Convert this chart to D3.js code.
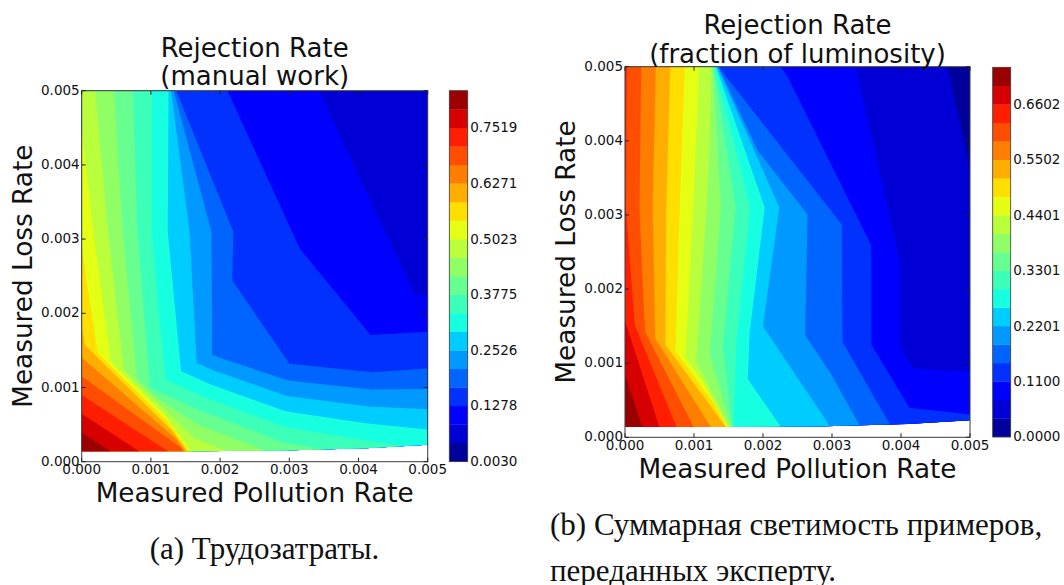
<!DOCTYPE html>
<html><head><meta charset="utf-8">
<script src="https://cdn.jsdelivr.net/npm/d3@7"></script>
<style>body{margin:0;background:#fff} svg{display:block}</style>
</head><body>
<svg id="c" width="1064" height="585"></svg>
<script>
// ---------------- data (measured grid, 4 rows x 6 columns) ----------------
const pollutionRows = [
  [0.00000, 0.00145, 0.00158, 0.00290, 0.00410, 0.00500],
  [0.00000, 0.00100, 0.00200, 0.00300, 0.00420, 0.00500],
  [0.00000, 0.00120, 0.00230, 0.00315, 0.00415, 0.00500],
  [0.00000, 0.00125, 0.00137, 0.00230, 0.00335, 0.00500]
];
const lossRows = [
  [0.00014, 0.00014, 0.00014, 0.00015, 0.00018, 0.00023],
  [0.00160, 0.00100, 0.00150, 0.00130, 0.00120, 0.00125],
  [0.00310, 0.00310, 0.00310, 0.00287, 0.00220, 0.00225],
  [0.00500, 0.00500, 0.00500, 0.00500, 0.00500, 0.00500]
];
const rejectionManual = [
  [0.835, 0.690, 0.500, 0.400, 0.355, 0.325],
  [0.595, 0.375, 0.190, 0.170, 0.170, 0.170],
  [0.535, 0.300, 0.155, 0.128, 0.087, 0.086],
  [0.490, 0.300, 0.165, 0.118, 0.088, 0.048]
];
const rejectionLumi = [
  [0.7335, 0.520, 0.290, 0.225, 0.125, 0.115],
  [0.659, 0.410, 0.220, 0.160, 0.055, 0.050],
  [0.626, 0.400, 0.209, 0.146, 0.060, 0.045],
  [0.628, 0.410, 0.145, 0.108, 0.073, 0.028]
];
const axisTicks = [0.000, 0.001, 0.002, 0.003, 0.004, 0.005];
const zRangeManual = [0.0030, 0.83514];
const zRangeLumi = [0.0000, 0.73356];
const cbarTicksManual = [0.0030, 0.1278, 0.2526, 0.3775, 0.5023, 0.6271, 0.7519];
const cbarTicksLumi = [0.0000, 0.1100, 0.2201, 0.3301, 0.4401, 0.5502, 0.6602];
const nBands = 20;

// ---------------- jet colormap ----------------
const JR = [[0,0],[0.35,0],[0.66,1],[0.89,1],[1,0.5]];
const JG = [[0,0],[0.125,0],[0.375,1],[0.64,1],[0.91,0],[1,0]];
const JB = [[0,0.5],[0.11,1],[0.34,1],[0.65,0],[1,0]];
function seg(pts, x){
  for (let k = 1; k < pts.length; k++) {
    if (x <= pts[k][0]) { const [x0,y0] = pts[k-1], [x1,y1] = pts[k]; return y0 + (y1-y0)*(x-x0)/(x1-x0); }
  }
  return pts[pts.length-1][1];
}
function jet(t){
  const i = Math.max(0, Math.min(255, Math.floor(t*256)));
  const x = i/255;
  return d3.rgb(255*seg(JR,x), 255*seg(JG,x), 255*seg(JB,x)).formatHex();
}
const bandColor = k => jet((k + 0.5)/nBands);

const svg = d3.select('#c');
const FONT = "'DejaVu Sans', sans-serif";

function panel(cfg){
  const {X, Y, Z, zRange, cTicks, box, cbar, id} = cfg;
  const x = d3.scaleLinear().domain([0, 0.005]).range([box.l, box.r]);
  const y = d3.scaleLinear().domain([0, 0.005]).range([box.b, box.t]);
  const levels = d3.range(nBands + 1).map(k => zRange[0] + k*(zRange[1]-zRange[0])/nBands);
  const m = Z.length, n = Z[0].length;
  const values = Z.flat();

  svg.append('clipPath').attr('id', 'clip' + id)
    .append('rect').attr('x', box.l).attr('y', box.t).attr('width', box.r - box.l).attr('height', box.b - box.t);

  function toPx(p){
    const u = Math.max(0, Math.min(n-1, p[0] - 0.5));
    const v = Math.max(0, Math.min(m-1, p[1] - 0.5));
    const i = Math.min(n-2, Math.floor(u)), j = Math.min(m-2, Math.floor(v));
    const fu = u - i, fv = v - j;
    const bil = A => (1-fu)*(1-fv)*A[j][i] + fu*(1-fv)*A[j][i+1] + (1-fu)*fv*A[j+1][i] + fu*fv*A[j+1][i+1];
    return [x(bil(X)), y(bil(Y))];
  }

  const gen = d3.contours().size([n, m]).thresholds(levels.slice(0, nBands));
  const g = svg.append('g').attr('clip-path', `url(#clip${id})`);
  gen(values).forEach((c, k) => {
    let d = '';
    c.coordinates.forEach(poly => poly.forEach(ring => {
      d += 'M' + ring.map(p => toPx(p).map(v => v.toFixed(2)).join(',')).join('L') + 'Z';
    }));
    if (d) g.append('path').attr('d', d).attr('fill', bandColor(k)).attr('fill-rule', 'evenodd');
  });

  // frame
  svg.append('rect').attr('x', box.l).attr('y', box.t).attr('width', box.r - box.l).attr('height', box.b - box.t)
    .attr('fill', 'none').attr('stroke', '#3a3a3a').attr('stroke-width', 1);
  const tk = svg.append('g').attr('stroke', '#222').attr('stroke-width', 1);
  axisTicks.forEach(t => {
    tk.append('line').attr('x1', x(t)).attr('x2', x(t)).attr('y1', box.b).attr('y2', box.b - 4);
    tk.append('line').attr('x1', x(t)).attr('x2', x(t)).attr('y1', box.t).attr('y2', box.t + 4);
    tk.append('line').attr('y1', y(t)).attr('y2', y(t)).attr('x1', box.l).attr('x2', box.l + 4);
    tk.append('line').attr('y1', y(t)).attr('y2', y(t)).attr('x1', box.r).attr('x2', box.r - 4);
  });
  const fmt = d3.format('.3f');
  axisTicks.forEach(t => {
    svg.append('text').attr('x', x(t)).attr('y', box.b + 12.5).attr('text-anchor', 'middle')
      .attr('font-family', FONT).attr('font-size', 13.5).attr('fill', '#111').text(fmt(t));
    svg.append('text').attr('x', box.l - 2).attr('y', y(t) + 4).attr('text-anchor', 'end')
      .attr('font-family', FONT).attr('font-size', 13.5).attr('fill', '#111').text(fmt(t));
  });

  // colorbar
  const cy = d3.scaleLinear().domain(zRange).range([cbar.b, cbar.t]);
  d3.range(nBands).forEach(k => {
    svg.append('rect').attr('x', cbar.l).attr('width', cbar.r - cbar.l)
      .attr('y', cy(levels[k+1])).attr('height', cy(levels[k]) - cy(levels[k+1]) + 0.3)
      .attr('fill', bandColor(k));
  });
  svg.append('rect').attr('x', cbar.l).attr('y', cbar.t).attr('width', cbar.r - cbar.l).attr('height', cbar.b - cbar.t)
    .attr('fill', 'none').attr('stroke', '#3a3a3a').attr('stroke-width', 0.8);
  const f4 = d3.format('.4f');
  cTicks.forEach(t => {
    svg.append('text').attr('x', cbar.r + 2.5).attr('y', cy(t) + 4.5).attr('text-anchor', 'start')
      .attr('font-family', FONT).attr('font-size', 13.5).attr('fill', '#111').text(f4(t));
  });

  // titles and labels
  cfg.title.forEach((s, i) => {
    svg.append('text').attr('x', (box.l + box.r)/2).attr('y', cfg.titleY[i]).attr('text-anchor', 'middle')
      .attr('font-family', FONT).attr('font-size', 26).attr('fill', '#111').text(s);
  });
  svg.append('text').attr('x', (box.l + box.r)/2).attr('y', cfg.xlabelY).attr('text-anchor', 'middle')
    .attr('font-family', FONT).attr('font-size', 26.3).attr('fill', '#111').text('Measured Pollution Rate');
  svg.append('text').attr('transform', `translate(${cfg.ylabelX},${(box.t + box.b)/2}) rotate(-90)`)
    .attr('text-anchor', 'middle').attr('font-family', FONT).attr('font-size', 26.3).attr('fill', '#111')
    .text('Measured Loss Rate');
}

panel({
  id: 'a', X: pollutionRows, Y: lossRows, Z: rejectionManual, zRange: zRangeManual, cTicks: cbarTicksManual,
  box: {l: 81.7, r: 427.7, t: 90.7, b: 461.7},
  cbar: {l: 449.3, r: 467.7, t: 90.7, b: 461.5},
  title: ['Rejection Rate', '(manual work)'], titleY: [56.5, 85], xlabelY: 502, ylabelX: 32
});
panel({
  id: 'b', X: pollutionRows, Y: lossRows, Z: rejectionLumi, zRange: zRangeLumi, cTicks: cbarTicksLumi,
  box: {l: 625, r: 970, t: 66.7, b: 437.3},
  cbar: {l: 992.7, r: 1010.7, t: 67.3, b: 436.9},
  title: ['Rejection Rate', '(fraction of luminosity)'], titleY: [33.5, 63], xlabelY: 478, ylabelX: 574.5
});

// captions
const SERIF = "'Liberation Serif', 'DejaVu Serif', serif";
svg.append('text').attr('x', 264.5).attr('y', 559).attr('text-anchor', 'middle')
  .attr('font-family', SERIF).attr('font-size', 31).attr('fill', '#111').text('(a) Трудозатраты.');
svg.append('text').attr('x', 550).attr('y', 535).attr('text-anchor', 'start')
  .attr('font-family', SERIF).attr('font-size', 31).attr('fill', '#111').text('(b) Суммарная светимость примеров,');
svg.append('text').attr('x', 550).attr('y', 581).attr('text-anchor', 'start')
  .attr('font-family', SERIF).attr('font-size', 31).attr('fill', '#111').text('переданных эксперту.');
</script>
</body></html>
